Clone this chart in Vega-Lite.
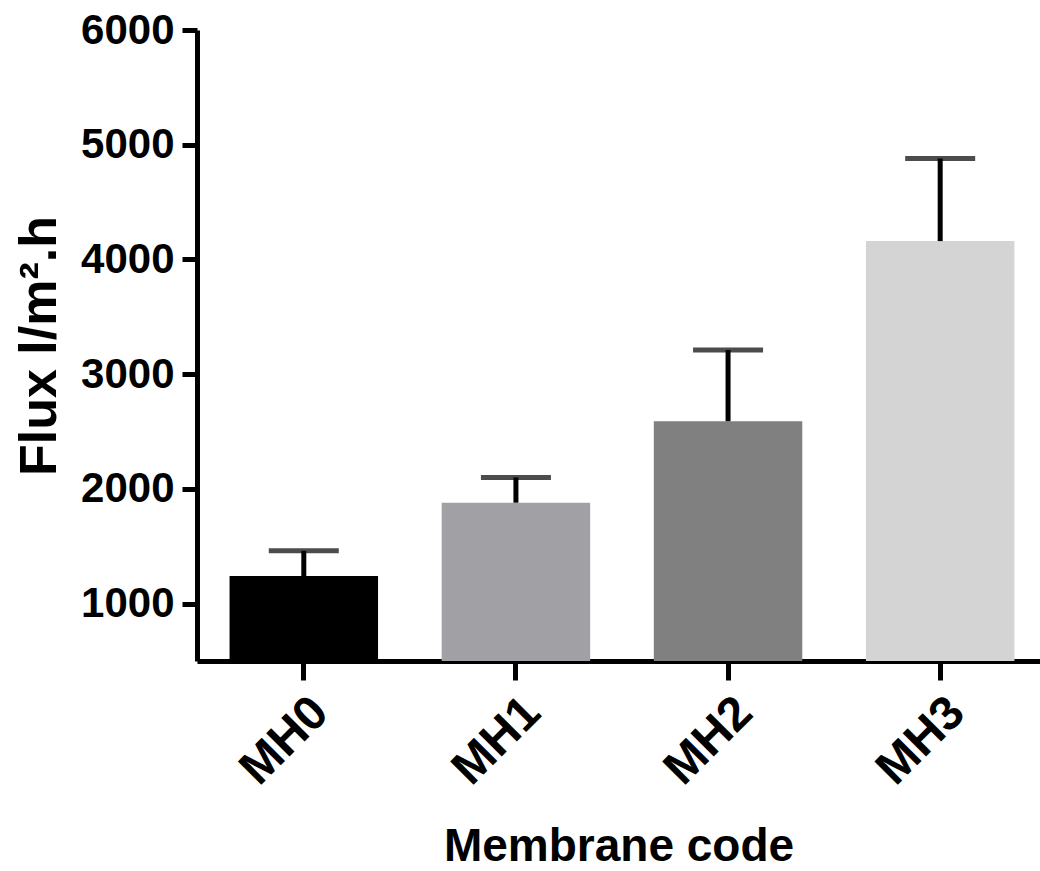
{
  "$schema": "https://vega.github.io/schema/vega-lite/v6.json",
  "width": 843,
  "height": 631,
  "autosize": "none",
  "padding": {"left": 197, "top": 30, "right": 0, "bottom": 210},
  "background": "white",
  "data": {
    "values": [
      {"code": "MH0", "flux": 1240, "upper": 1460},
      {"code": "MH1", "flux": 1880, "upper": 2100},
      {"code": "MH2", "flux": 2590, "upper": 3210},
      {"code": "MH3", "flux": 4160, "upper": 4880}
    ]
  },
  "encoding": {
    "x": {
      "field": "code",
      "type": "nominal",
      "sort": null,
      "title": "Membrane code",
      "scale": {"paddingInner": 0.3, "paddingOuter": 0.137, "align": 0.56}
    }
  },
  "layer": [
    {
      "mark": {"type": "bar"},
      "encoding": {
        "y": {
          "field": "flux",
          "type": "quantitative",
          "title": "Flux l/m².h",
          "scale": {"domain": [500, 6000], "zero": false, "nice": false},
          "axis": {"values": [1000, 2000, 3000, 4000, 5000, 6000], "format": "d"}
        },
        "y2": {"datum": 500},
        "color": {
          "field": "code",
          "type": "nominal",
          "legend": null,
          "scale": {"domain": ["MH0", "MH1", "MH2", "MH3"], "range": ["#000000", "#a1a0a5", "#808080", "#d4d4d4"]}
        }
      }
    },
    {
      "mark": {"type": "rule", "color": "black", "strokeWidth": 5},
      "encoding": {
        "y": {"field": "flux", "type": "quantitative", "title": "Flux l/m².h"},
        "y2": {"field": "upper"}
      }
    },
    {
      "mark": {"type": "tick", "color": "black", "size": 70, "thickness": 5, "orient": "horizontal"},
      "encoding": {
        "y": {"field": "upper", "type": "quantitative", "title": "Flux l/m².h"}
      }
    }
  ],
  "config": {
    "view": {"stroke": null},
    "axis": {
      "domainColor": "black",
      "domainWidth": 5,
      "tickColor": "black",
      "tickWidth": 5,
      "grid": false,
      "labelFont": "Liberation Sans",
      "labelFontWeight": "bold",
      "labelFontSize": 42,
      "labelColor": "black",
      "titleFont": "Liberation Sans",
      "titleFontWeight": "bold",
      "titleColor": "black"
    },
    "axisY": {"tickSize": 15, "labelPadding": 8, "titlePadding": 14, "titleFontSize": 52},
    "axisX": {"tickSize": 19, "labelAngle": -45, "labelPadding": 8, "titlePadding": 31, "labelFontSize": 48, "titleFontSize": 46}
  }
}
